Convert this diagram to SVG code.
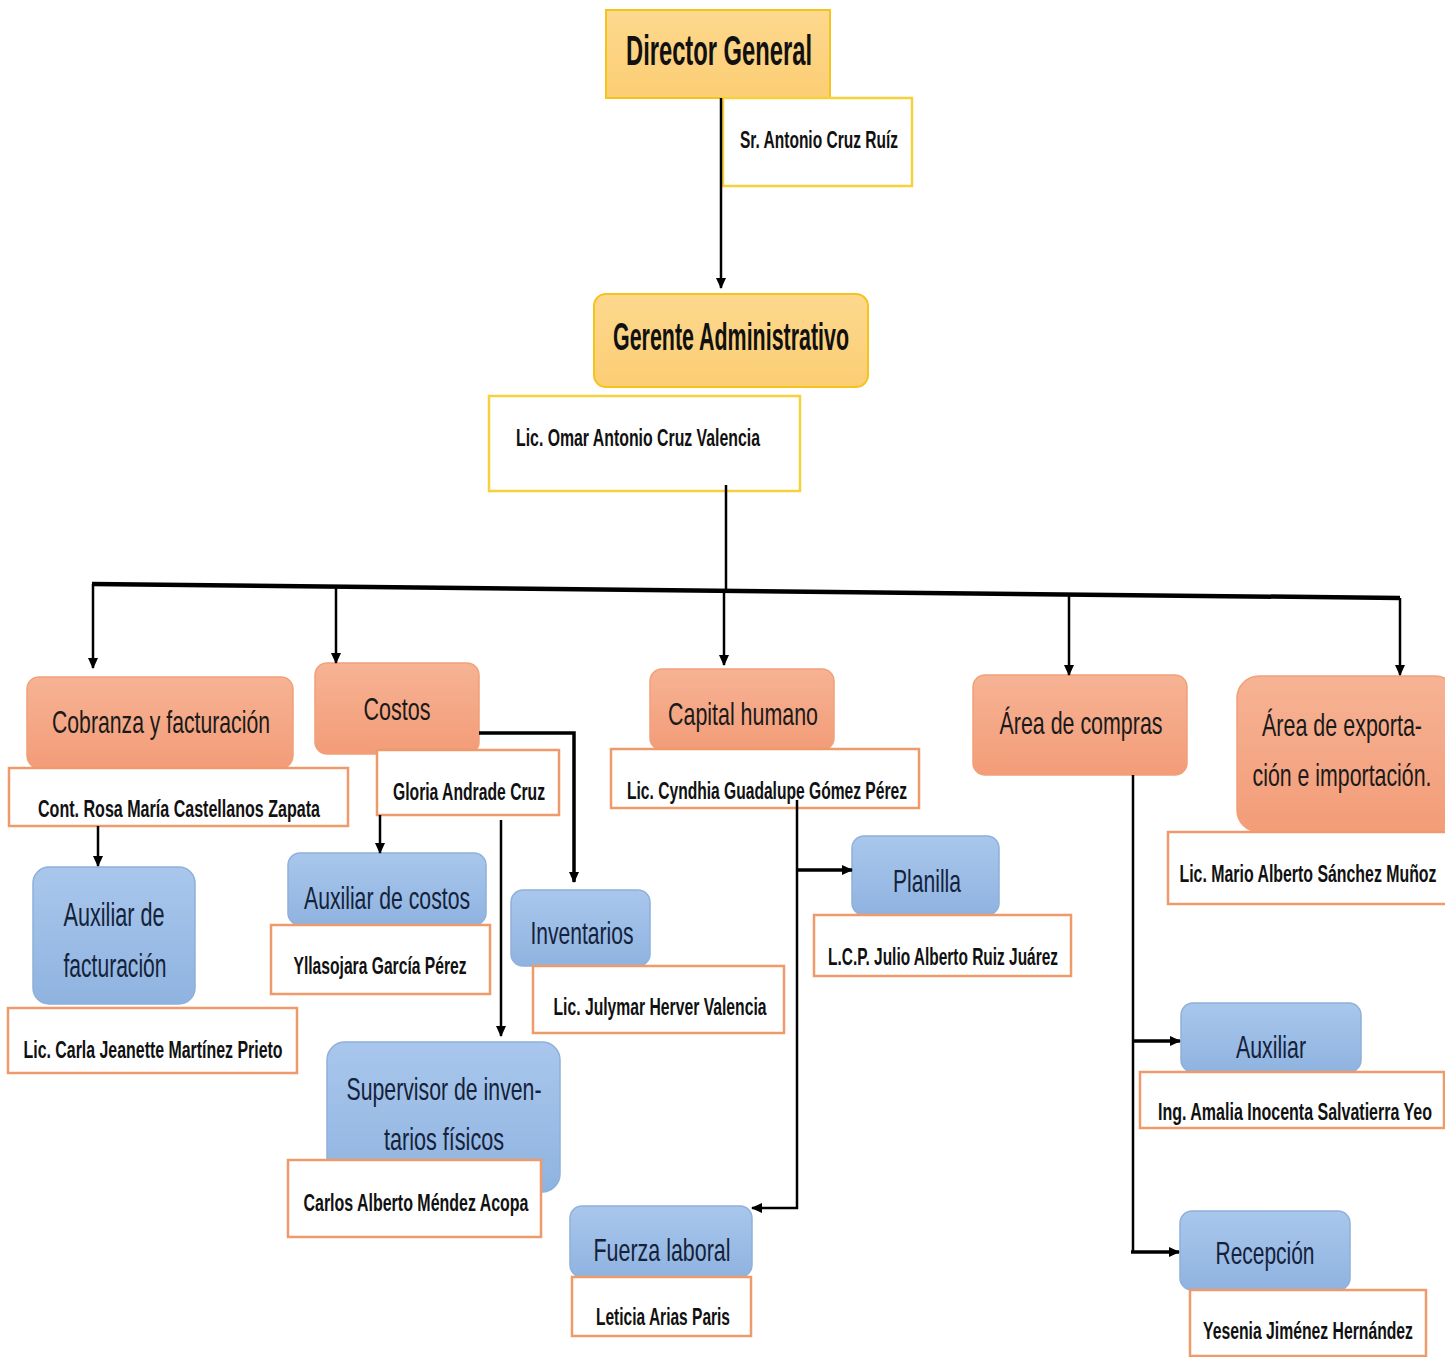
<svg xmlns="http://www.w3.org/2000/svg" width="1445" height="1357" viewBox="0 0 1445 1357">
<style>
.yel{fill:url(#gy);stroke:#f5c41c;stroke-width:2}
.sal{fill:url(#gs);stroke:#f1a07a;stroke-width:1.5}
.blu{fill:url(#gb);stroke:#8fb0da;stroke-width:1.5}
.namey{fill:#fff;stroke:#f5d13c;stroke-width:2.5}
.nameo{fill:#fff;stroke:#ef9a6a;stroke-width:2.5}
.tb{font-family:"Liberation Sans Narrow","Liberation Sans",Arial,sans-serif;font-weight:bold;fill:#111;text-anchor:middle}
.t{font-family:"Liberation Sans Narrow","Liberation Sans",Arial,sans-serif;fill:#1a1a1a;text-anchor:middle}
.tbl{font-family:"Liberation Sans Narrow","Liberation Sans",Arial,sans-serif;fill:#14223a;text-anchor:middle}
.n{font-family:"Liberation Sans Narrow","Liberation Sans",Arial,sans-serif;font-weight:bold;fill:#111;text-anchor:middle;font-size:23px}
.c{fill:none;stroke:#000;stroke-width:2.5}
.bus{fill:none;stroke:#000;stroke-width:4.5}
.ct{fill:none;stroke:#000;stroke-width:3.5}
</style>
<defs>
<linearGradient id="gy" x1="0" y1="0" x2="0" y2="1"><stop offset="0" stop-color="#fdd88e"/><stop offset="1" stop-color="#fcce74"/></linearGradient>
<linearGradient id="gs" x1="0" y1="0" x2="0" y2="1"><stop offset="0" stop-color="#f6b394"/><stop offset="1" stop-color="#f39c78"/></linearGradient>
<linearGradient id="gb" x1="0" y1="0" x2="0" y2="1"><stop offset="0" stop-color="#a9c7ec"/><stop offset="1" stop-color="#8fb3e0"/></linearGradient>
<marker id="ah" markerWidth="12" markerHeight="12" refX="10" refY="6" orient="auto" markerUnits="userSpaceOnUse"><path d="M0,1 L11,6 L0,11 Z" fill="#000"/></marker>
</defs>
<rect width="1445" height="1357" fill="#fff"/>

<g id="nodes">
<g id="director">
<rect class="yel" x="606" y="10" width="224" height="88"/>
<text class="tb" x="719" y="65" font-size="42" textLength="186" lengthAdjust="spacingAndGlyphs">Director General</text>
<rect class="namey" x="723" y="98" width="189" height="88"/>
<text class="n" x="819" y="148" font-size="25" textLength="158" lengthAdjust="spacingAndGlyphs">Sr. Antonio Cruz Ruíz</text>
</g>
<g id="gerente">
<rect class="yel" x="594" y="294" width="274" height="93" rx="12"/>
<text class="tb" x="731" y="350" font-size="38" textLength="236" lengthAdjust="spacingAndGlyphs">Gerente Administrativo</text>
<rect class="namey" x="489" y="396" width="311" height="95"/>
<text class="n" x="638" y="446" font-size="23" textLength="244" lengthAdjust="spacingAndGlyphs">Lic. Omar Antonio Cruz Valencia</text>
</g>
<g id="cobranza">
<rect class="sal" x="27" y="677" width="266" height="91" rx="12"/>
<text class="t" x="161" y="733" font-size="32" textLength="218" lengthAdjust="spacingAndGlyphs">Cobranza y facturación</text>
<rect class="nameo" x="9" y="768" width="339" height="58"/>
<text class="n" x="179" y="817" textLength="282" lengthAdjust="spacingAndGlyphs">Cont.  Rosa María Castellanos Zapata</text>
</g>
<g id="aux-facturacion">
<rect class="blu" x="33" y="867" width="162" height="137" rx="16"/>
<text class="tbl" x="114" y="926" font-size="34" textLength="101" lengthAdjust="spacingAndGlyphs">Auxiliar de</text>
<text class="tbl" x="115" y="977" font-size="34" textLength="103" lengthAdjust="spacingAndGlyphs">facturación</text>
<rect class="nameo" x="8" y="1008" width="289" height="65"/>
<text class="n" x="153" y="1058" textLength="259" lengthAdjust="spacingAndGlyphs">Lic. Carla Jeanette Martínez Prieto</text>
</g>
<g id="costos">
<rect class="sal" x="315" y="663" width="164" height="91" rx="12"/>
<text class="t" x="397" y="720" font-size="31" textLength="67" lengthAdjust="spacingAndGlyphs">Costos</text>
<rect class="nameo" x="377" y="750" width="182" height="65"/>
<text class="n" x="469" y="800" textLength="152" lengthAdjust="spacingAndGlyphs">Gloria Andrade Cruz</text>
</g>
<g id="aux-costos">
<rect class="blu" x="288" y="853" width="198" height="72" rx="12"/>
<text class="tbl" x="387" y="909" font-size="32" textLength="166" lengthAdjust="spacingAndGlyphs">Auxiliar de costos</text>
<rect class="nameo" x="271" y="925" width="219" height="69"/>
<text class="n" x="380" y="974" textLength="173" lengthAdjust="spacingAndGlyphs">Yllasojara García Pérez</text>
</g>
<g id="inventarios">
<rect class="blu" x="511" y="890" width="139" height="76" rx="12"/>
<text class="tbl" x="582" y="944" font-size="32" textLength="103" lengthAdjust="spacingAndGlyphs">Inventarios</text>
<rect class="nameo" x="533" y="966" width="251" height="67"/>
<text class="n" x="660" y="1015" textLength="213" lengthAdjust="spacingAndGlyphs">Lic. Julymar Herver Valencia</text>
</g>
<g id="supervisor">
<rect class="blu" x="327" y="1042" width="233" height="150" rx="18"/>
<text class="tbl" x="444" y="1100" font-size="32" textLength="195" lengthAdjust="spacingAndGlyphs">Supervisor de inven-</text>
<text class="tbl" x="444" y="1150" font-size="32" textLength="120" lengthAdjust="spacingAndGlyphs">tarios físicos</text>
<rect class="nameo" x="288" y="1160" width="253" height="77"/>
<text class="n" x="416" y="1211" textLength="225" lengthAdjust="spacingAndGlyphs">Carlos Alberto Méndez Acopa</text>
</g>
<g id="capital">
<rect class="sal" x="650" y="669" width="184" height="81" rx="12"/>
<text class="t" x="743" y="725" font-size="32" textLength="150" lengthAdjust="spacingAndGlyphs">Capital humano</text>
<rect class="nameo" x="611" y="749" width="308" height="59"/>
<text class="n" x="767" y="799" textLength="280" lengthAdjust="spacingAndGlyphs">Lic. Cyndhia Guadalupe Gómez Pérez</text>
</g>
<g id="planilla">
<rect class="blu" x="852" y="836" width="147" height="79" rx="12"/>
<text class="tbl" x="927" y="892" font-size="32" textLength="68" lengthAdjust="spacingAndGlyphs">Planilla</text>
<rect class="nameo" x="814" y="915" width="257" height="61"/>
<text class="n" x="943" y="965" textLength="230" lengthAdjust="spacingAndGlyphs">L.C.P. Julio Alberto Ruiz Juárez</text>
</g>
<g id="fuerza">
<rect class="blu" x="570" y="1206" width="182" height="71" rx="12"/>
<text class="tbl" x="662" y="1261" font-size="32" textLength="137" lengthAdjust="spacingAndGlyphs">Fuerza laboral</text>
<rect class="nameo" x="572" y="1277" width="179" height="59"/>
<text class="n" x="663" y="1325" textLength="134" lengthAdjust="spacingAndGlyphs">Leticia Arias Paris</text>
</g>
<g id="compras">
<rect class="sal" x="973" y="675" width="214" height="100" rx="12"/>
<text class="t" x="1081" y="734" font-size="32" textLength="163" lengthAdjust="spacingAndGlyphs">Área de compras</text>
</g>
<g id="auxiliar">
<rect class="blu" x="1181" y="1003" width="180" height="69" rx="12"/>
<text class="tbl" x="1271" y="1058" font-size="32" textLength="70" lengthAdjust="spacingAndGlyphs">Auxiliar</text>
<rect class="nameo" x="1140" y="1072" width="304" height="56"/>
<text class="n" x="1295" y="1120" textLength="274" lengthAdjust="spacingAndGlyphs">Ing. Amalia Inocenta Salvatierra Yeo</text>
</g>
<g id="recepcion">
<rect class="blu" x="1180" y="1211" width="170" height="79" rx="12"/>
<text class="tbl" x="1265" y="1264" font-size="32" textLength="99" lengthAdjust="spacingAndGlyphs">Recepción</text>
<rect class="nameo" x="1190" y="1290" width="236" height="66"/>
<text class="n" x="1308" y="1339" textLength="210" lengthAdjust="spacingAndGlyphs">Yesenia Jiménez Hernández</text>
</g>
<g id="exportacion">
<rect class="sal" x="1237" y="676" width="220" height="156" rx="22"/>
<text class="t" x="1342" y="736" font-size="32" textLength="160" lengthAdjust="spacingAndGlyphs">Área de exporta-</text>
<text class="t" x="1342" y="786" font-size="32" textLength="179" lengthAdjust="spacingAndGlyphs">ción e importación.</text>
<rect class="nameo" x="1168" y="832" width="283" height="72"/>
<text class="n" x="1308" y="882" textLength="257" lengthAdjust="spacingAndGlyphs">Lic. Mario Alberto Sánchez Muñoz</text>
</g>
</g>

<g id="connectors">
<path class="c" d="M721,98 V288" marker-end="url(#ah)"/>
<path class="c" d="M726,485 V590"/>
<path class="bus" d="M92,584 L1400,598"/>
<path class="c" d="M93,584 V668" marker-end="url(#ah)"/>
<path class="c" d="M336,587 V663" marker-end="url(#ah)"/>
<path class="c" d="M724,590 V665" marker-end="url(#ah)"/>
<path class="c" d="M1069,594 V675" marker-end="url(#ah)"/>
<path class="c" d="M1400,598 V675" marker-end="url(#ah)"/>
<path class="c" d="M98,826 V866" marker-end="url(#ah)"/>
<path class="ct" d="M479,733 H574 V882" marker-end="url(#ah)"/>
<path class="c" d="M380,815 V853" marker-end="url(#ah)"/>
<path class="c" d="M501,820 V1036" marker-end="url(#ah)"/>
<path class="c" d="M797,800 V1208 H752" marker-end="url(#ah)"/>
<path class="ct" d="M797,870 H852" marker-end="url(#ah)"/>
<path class="c" d="M1133,775 V1252"/>
<path class="ct" d="M1133,1041 H1180" marker-end="url(#ah)"/>
<path class="ct" d="M1131,1252 H1179" marker-end="url(#ah)"/>
</g>
</svg>
